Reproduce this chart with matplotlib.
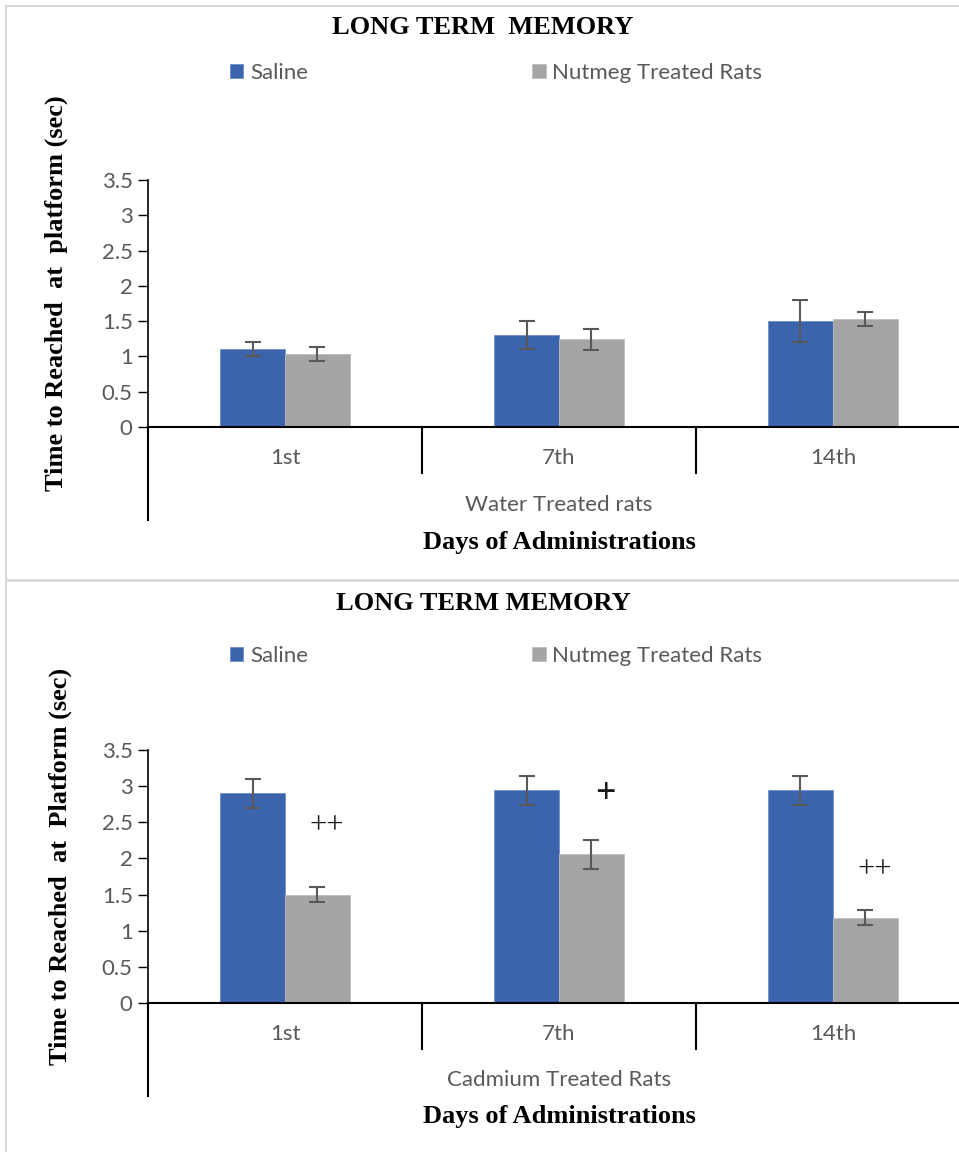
import matplotlib.pyplot as plt
import numpy as np
from matplotlib.lines import Line2D

days = ["1st", "7th", "14th"]
series = ["Saline", "Nutmeg Treated Rats"]

# water treated rats
water_saline = [1.10, 1.30, 1.50]
water_saline_err = [0.10, 0.20, 0.30]
water_nutmeg = [1.03, 1.24, 1.53]
water_nutmeg_err = [0.10, 0.15, 0.10]

# cadmium treated rats
cad_saline = [2.90, 2.94, 2.94]
cad_saline_err = [0.20, 0.20, 0.20]
cad_nutmeg = [1.50, 2.06, 1.18]
cad_nutmeg_err = [0.10, 0.20, 0.10]
cad_marks = ["++", "+", "++"]
cad_mark_y = [2.45, 2.88, 1.84]

blue = "#3C64AC"
grey = "#A5A5A5"
txt = "#595959"
serif = "Liberation Serif"
sans = "Lato"
fs_sans = 16
fs_serif = 19

W, H = 959, 1152
fig = plt.figure(figsize=(W / 100, H / 100), dpi=100)

def fx(px):
    return px / W

def fy(py):
    return 1 - py / H

# panel borders
border = "#D9D9D9"
fig.add_artist(Line2D([fx(6), fx(6)], [fy(6), fy(1152)], color=border, lw=1.5))
fig.add_artist(Line2D([fx(6), 1], [fy(6), fy(6)], color=border, lw=1.5))
fig.add_artist(Line2D([fx(6), 1], [fy(580), fy(580)], color=border, lw=2))


def panel(y0, y35, s, se, n, ne, title, ylabel, group, tick_bot, left_bot,
          title_y, leg_y, ylab_x, cat_y, grp_y, days_y):
    ax = fig.add_axes([fx(148), fy(y0), 1 - fx(148), (y0 - y35) / H])
    x = np.arange(len(days))
    w = 0.237
    b1 = ax.bar(x - w / 2, s, w, color=blue, edgecolor="#6E8FCB", lw=0.6,
                label=series[0], zorder=2)
    b2 = ax.bar(x + w / 2, n, w, color=grey, edgecolor="#BDBDBD", lw=0.6,
                label=series[1], zorder=2)
    ax.errorbar(x - w / 2, s, yerr=se, fmt="none", ecolor=txt, elinewidth=1.5,
                capsize=6, capthick=1.5, zorder=3)
    ax.errorbar(x + w / 2, n, yerr=ne, fmt="none", ecolor=txt, elinewidth=1.5,
                capsize=6, capthick=1.5, zorder=3)
    ax.set_xlim(-0.5, 2.46)
    ax.set_ylim(0, 3.5)
    ax.set_yticks(np.arange(0, 3.51, 0.5))
    ax.set_yticklabels(["0", "0.5", "1", "1.5", "2", "2.5", "3", "3.5"])
    ax.tick_params(axis="y", length=7, width=1, colors="black", labelcolor=txt,
                   labelsize=fs_sans, pad=4)
    for lab in ax.get_yticklabels():
        lab.set_fontfamily(sans)
    ax.set_xticks([])
    for sp in ["top", "right"]:
        ax.spines[sp].set_visible(False)
    ax.spines["left"].set_linewidth(1.2)
    ax.spines["bottom"].set_linewidth(1.5)
    ax.patch.set_alpha(0)

    # multi-level category axis
    tr = ax.get_xaxis_transform()
    span = y0 - y35
    for xb in [0.5, 1.5]:
        ax.plot([xb, xb], [0, -(tick_bot - y0) / span], color="black", lw=1.5,
                transform=tr, clip_on=False)
    ax.plot([-0.5, -0.5], [0, -(left_bot - y0) / span], color="black", lw=1.5,
            transform=tr, clip_on=False)
    for xi, d in zip(x, days):
        ax.text(xi, -(cat_y - y0) / span, d, transform=tr, ha="center",
                va="center", color=txt, fontsize=fs_sans, family=sans)
    fig.text(fx(559), fy(grp_y), group, ha="center", va="center", color=txt,
             fontsize=fs_sans, family=sans)

    fig.text(fx(483), fy(title_y), title, ha="center", va="center",
             fontsize=fs_serif, fontweight="bold", family=serif)
    fig.text(fx(ylab_x), fy((y0 + y35) / 2 - 10), ylabel, rotation=90,
             ha="center", va="center", fontsize=fs_serif, fontweight="bold",
             family=serif)
    fig.text(fx(559), fy(days_y), "Days of Administrations", ha="center",
             va="center", fontsize=fs_serif, fontweight="bold", family=serif)

    leg = fig.legend(handles=[b1, b2], loc="center left",
                     bbox_to_anchor=(fx(230), fy(leg_y)), ncol=2, frameon=False,
                     handlelength=0.6, handleheight=0.6, handletextpad=0.3,
                     columnspacing=10.1, prop={"family": sans, "size": fs_sans},
                     borderpad=0, borderaxespad=0)
    for t in leg.get_texts():
        t.set_color(txt)
    return ax


ax1 = panel(427, 180, water_saline, water_saline_err, water_nutmeg,
            water_nutmeg_err, "LONG TERM  MEMORY",
            "Time to Reached  at  platform (sec)", "Water Treated rats",
            473, 520, 27, 73, 56, 458, 505, 542)

ax2 = panel(1003, 750, cad_saline, cad_saline_err, cad_nutmeg, cad_nutmeg_err,
            "LONG TERM MEMORY", "Time to Reached  at  Platform (sec)",
            "Cadmium Treated Rats", 1049, 1096, 603, 656, 60, 1034, 1080, 1117)

offs = [0.153, 0.17, 0.153]
for i, (m, yv) in enumerate(zip(cad_marks, cad_mark_y)):
    ax2.text(i + offs[i], yv, m, ha="center", va="center",
             fontsize=26 if m == "+" else 22, family=serif,
             fontweight="bold" if m == "+" else "normal", color="#1a1a1a")

fig.savefig("out.png", dpi=100)
